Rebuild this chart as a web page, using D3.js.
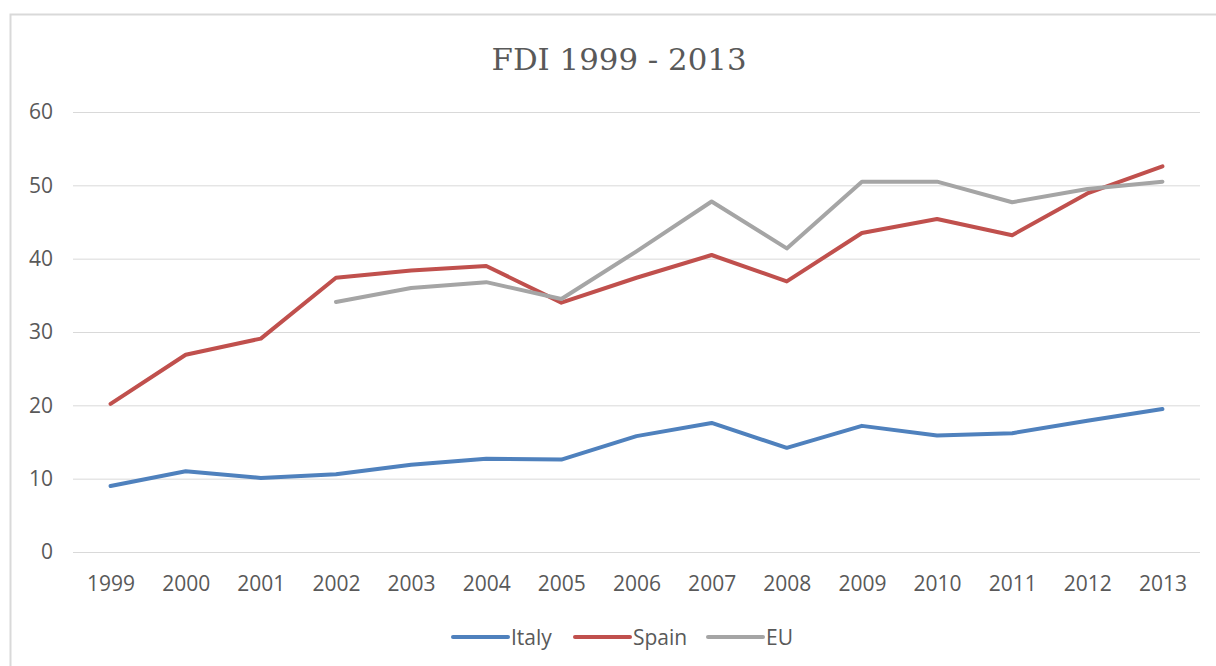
<!DOCTYPE html>
<html>
<head>
<meta charset="utf-8">
<script src="https://cdn.jsdelivr.net/npm/d3@7"></script>
<style>
  html, body { margin: 0; padding: 0; background: #fff; }
  svg { display: block; }
</style>
</head>
<body>
<svg id="chart"></svg>
<script>
// FDI 1999 - 2013 line chart (Excel-style)

const years = ["1999", "2000", "2001", "2002", "2003", "2004", "2005", "2006",
  "2007", "2008", "2009", "2010", "2011", "2012", "2013"];
const italy = [9.0, 11.0, 10.1, 10.6, 11.9, 12.7, 12.6, 15.8, 17.6, 14.2, 17.2, 15.9, 16.2, 17.9, 19.5];
const spain = [20.2, 26.9, 29.1, 37.4, 38.4, 39.0, 34.0, 37.4, 40.5, 36.9, 43.5, 45.4, 43.2, 48.9, 52.6];
const eu = [null, null, null, 34.1, 36.0, 36.8, 34.5, 41.0, 47.8, 41.4, 50.5, 50.5, 47.7, 49.5, 50.5];
const yTicks = [0, 10, 20, 30, 40, 50, 60];

const series = [
  { name: "Italy", values: italy, color: "#4f81bd" },
  { name: "Spain", values: spain, color: "#c0504d" },
  { name: "EU", values: eu, color: "#a5a5a5" },
];

const width = 1216, height = 666;
const plot = { left: 73, right: 1200, top: 112, bottom: 552 };
const textColor = "#595959";
const gridColor = "#d9d9d9";
const sansFont = "'Open Sans', 'Liberation Sans', sans-serif";

const svg = d3.select("#chart").attr("width", width).attr("height", height);

// chart area border (only top/left visible in the screenshot)
svg.append("path")
  .attr("d", `M10.5,${height} V14.5 H${width}`)
  .attr("fill", "none")
  .attr("stroke", gridColor)
  .attr("stroke-width", 2);

const x = d3.scalePoint().domain(years).range([plot.left, plot.right]).padding(0.5);
const y = d3.scaleLinear().domain([0, 60]).range([plot.bottom, plot.top]);

// gridlines + y labels
const yAxis = svg.append("g")
  .attr("transform", `translate(${plot.left},0)`)
  .call(d3.axisLeft(y).tickValues(yTicks).tickSize(-(plot.right - plot.left)).tickPadding(20));
yAxis.select(".domain").remove();
yAxis.selectAll(".tick line").attr("stroke", gridColor).attr("stroke-width", 1);
yAxis.selectAll(".tick text")
  .attr("fill", textColor)
  .style("font-family", sansFont)
  .style("font-size", "21px");

// x labels
const xAxis = svg.append("g")
  .attr("transform", `translate(0,${plot.bottom})`)
  .call(d3.axisBottom(x).tickSize(0).tickPadding(24));
xAxis.select(".domain").remove();
xAxis.selectAll(".tick text")
  .attr("fill", textColor)
  .attr("dy", "0.71em")
  .style("font-family", sansFont)
  .style("font-size", "21px");

// lines
const line = d3.line()
  .defined((d) => d != null)
  .x((d, i) => x(years[i]))
  .y((d) => y(d));

svg.append("g")
  .selectAll("path")
  .data(series)
  .enter()
  .append("path")
  .attr("d", (s) => line(s.values))
  .attr("fill", "none")
  .attr("stroke", (s) => s.color)
  .attr("stroke-width", 4)
  .attr("stroke-linejoin", "round")
  .attr("stroke-linecap", "round");

// title
svg.append("text")
  .attr("x", 619)
  .attr("y", 70)
  .attr("text-anchor", "middle")
  .attr("fill", textColor)
  .attr("textLength", 255)
  .attr("lengthAdjust", "spacingAndGlyphs")
  .style("font-family", "'DejaVu Serif', 'Liberation Serif', serif")
  .style("font-size", "29px")
  .text("FDI 1999 - 2013");

// legend
const legendX = [453, 575, 708];
const legend = svg.append("g")
  .selectAll("g")
  .data(series)
  .enter()
  .append("g")
  .attr("transform", (d, i) => `translate(${legendX[i]},637)`);

legend.append("line")
  .attr("x1", 0).attr("x2", 55)
  .attr("stroke", (d) => d.color)
  .attr("stroke-width", 4)
  .attr("stroke-linecap", "round");

legend.append("text")
  .attr("x", 58)
  .attr("dy", "0.36em")
  .attr("fill", textColor)
  .style("font-family", sansFont)
  .style("font-size", "21px")
  .text((d) => d.name);
</script>
</body>
</html>
